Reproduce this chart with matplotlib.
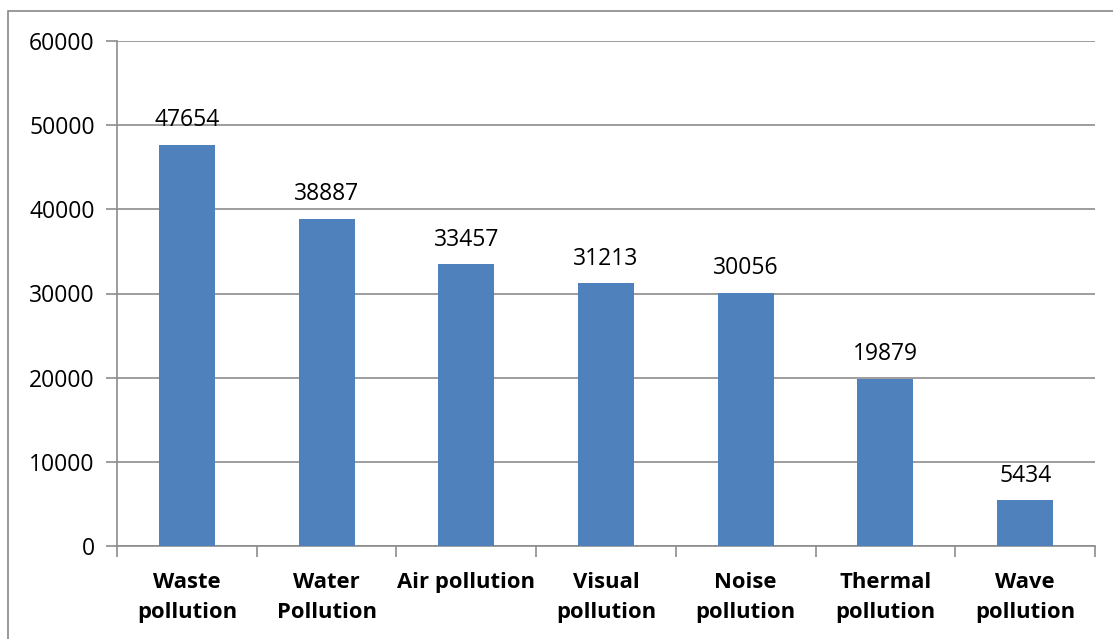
import matplotlib
matplotlib.use("Agg")
import matplotlib.pyplot as plt
from matplotlib.patches import Rectangle

# Chart data
categories = ["Waste\npollution", "Water\nPollution", "Air pollution", "Visual\npollution",
              "Noise\npollution", "Thermal\npollution", "Wave\npollution"]
values = [47654, 38887, 33457, 31213, 30056, 19879, 5434]
y_ticks = [0, 10000, 20000, 30000, 40000, 50000, 60000]

W, H = 1113, 639
fig = plt.figure(figsize=(W / 100, H / 100), dpi=100)
plt.rcParams['font.family'] = ['Open Sans', 'DejaVu Sans']

# outer chart frame
fig.patches.append(Rectangle((8 / W, -0.1), 1.2, 1 - 11 / H + 0.1, transform=fig.transFigure,
                             fill=False, edgecolor="#888888", linewidth=1.2))

ax = fig.add_axes([117 / W, 1 - 546 / H, (1095 - 117) / W, (546 - 41) / H])
x = list(range(len(values)))
ax.bar(x, values, width=0.4, color="#4F81BD", zorder=3)
for xi, v in zip(x, values):
    ax.text(xi, v + 1500, str(v), ha="center", va="bottom", fontsize=16.5, color="black")

ax.set_xlim(-0.5, len(values) - 0.5)
ax.set_ylim(0, 60000)
ax.set_yticks(y_ticks)
ax.set_yticklabels([str(t) for t in y_ticks], fontsize=16.5)
ax.yaxis.grid(True, color="#8c8c8c", linewidth=1.2, zorder=0)

ax.set_xticks(x)
ax.set_xticklabels(categories, fontsize=15.8, fontweight="bold", linespacing=1.55)
ax.tick_params(axis="x", length=0, pad=19)
ax.set_xticks([i - 0.5 for i in range(len(values) + 1)], minor=True)
ax.tick_params(axis="x", which="minor", length=8, color="#8c8c8c", width=1.2)
ax.tick_params(axis="y", length=8, color="#8c8c8c", width=1.2, pad=8)

for side in ["top", "right"]:
    ax.spines[side].set_visible(False)
for side in ["left", "bottom"]:
    ax.spines[side].set_color("#8c8c8c")
    ax.spines[side].set_linewidth(1.2)

fig.savefig("out.png", dpi=100)
